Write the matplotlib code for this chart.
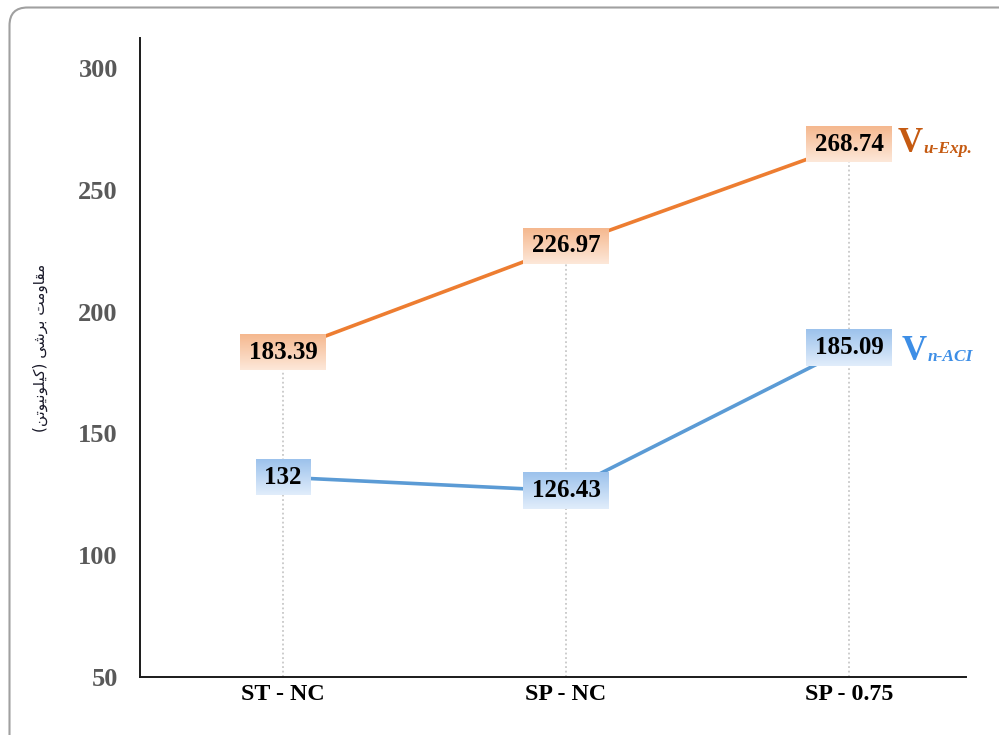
import numpy as np
import matplotlib
matplotlib.use('Agg')
import matplotlib.pyplot as plt
from matplotlib.patches import FancyBboxPatch
from matplotlib.colors import to_rgb

categories = ['ST - NC', 'SP - NC', 'SP - 0.75']
v_exp = [183.39, 226.97, 268.74]
v_aci = [132, 126.43, 185.09]
y_ticks = [50, 100, 150, 200, 250, 300]

# y-axis title in Persian, written with presentation forms in visual order
# because matplotlib does no Arabic shaping or bidi reordering
w_kilonewton = '\uFEE6\uFE97\uFEEE\uFEF4\uFEE7\uFEEE\uFEE0\uFEF4\uFB90'
w_barshi = '\uFEF0\uFEB7\uFEAE\uFE91'
w_moghavemat = '\uFE96\uFEE3\uFEED\uFE8E\uFED8\uFEE3'
ylabel = '(' + w_kilonewton + ') ' + w_barshi + ' ' + w_moghavemat

serif = ['Liberation Serif', 'DejaVu Serif']

fig = plt.figure(figsize=(9.99, 7.35), dpi=100)

# rounded outer frame, drawn in pixel units
frame = fig.add_axes([0, 0, 1, 1])
frame.set_xlim(0, 999)
frame.set_ylim(735, 0)
frame.axis('off')
frame.add_patch(FancyBboxPatch((9.5, 7.5), 1100, 748,
                               boxstyle='round,pad=0,rounding_size=18',
                               fc='none', ec='#a0a0a0', lw=1.5))

ax = fig.add_axes([140 / 999, 58 / 735, 826 / 999, 639 / 735])
ax.patch.set_alpha(0)
x = np.arange(len(categories))

xlim = (-0.505, 2.413)
ylim = (50, 312.3)

# drop lines from the axis to the highest point of each category
tops = np.maximum(v_exp, v_aci)
ax.vlines(x, 50, tops, colors='#c8c8c8', linestyles=(0, (1, 1.5)), lw=1.3, zorder=1)

ax.plot(x, v_exp, color='#ed7d31', lw=2.6, zorder=2, solid_capstyle='butt')
ax.plot(x, v_aci, color='#5b9bd5', lw=2.6, zorder=2, solid_capstyle='butt')

ax.set_xlim(*xlim)
ax.set_ylim(*ylim)
ax.set_xticks(x)
ax.set_xticklabels(categories, family=serif, fontweight='bold', fontsize=17.3, color='black')
ax.set_yticks(y_ticks)
ax.set_yticklabels([str(v) for v in y_ticks], family=serif, fontweight='bold',
                   fontsize=19, color='#595959')
ax.tick_params(axis='both', length=0)
ax.tick_params(axis='y', pad=16)
ax.tick_params(axis='x', pad=5)
for s in ['top', 'right']:
    ax.spines[s].set_visible(False)
for s in ['left', 'bottom']:
    ax.spines[s].set_color('#1a1a1a')
    ax.spines[s].set_linewidth(1.4)

fig.text(40 / 999, 1 - 348 / 735, ylabel, rotation=90, ha='center', va='center',
         fontsize=11, color='#1a1a2a', family='DejaVu Sans')

labels = []
for vals, c_top, c_bot in [(v_exp, '#f5b88f', '#fde8d9'), (v_aci, '#9cc2ec', '#e1edfb')]:
    for xi, v in zip(x, vals):
        t = ax.text(xi, v, f'{v:g}', ha='center', va='center', family=serif,
                    fontweight='bold', fontsize=18, color='black', zorder=5)
        labels.append((t, xi, v, c_top, c_bot))

# series names next to the last points
names = []
for val, sub, color, dx, dy in [(v_exp[-1], 'u-Exp.', '#c55a11', 35, -5.8),
                                (v_aci[-1], 'n-ACI', '#3d8ee6', 38, -8.6)]:
    big = ax.annotate('V', (x[-1], val), xytext=(dx, dy), textcoords='offset points',
                      ha='left', va='baseline', family=serif, fontweight='bold',
                      fontsize=25, color=color, zorder=6)
    names.append((big, val, sub, color, dy))

fig.canvas.draw()
renderer = fig.canvas.get_renderer()
inv = ax.transData.inverted()
for t, xi, v, c_top, c_bot in labels:
    bb = t.get_window_extent(renderer)
    cx, cy = ax.transData.transform((xi, v))
    w = bb.width + 17
    h = 36
    (x0, y0) = inv.transform((cx - w / 2, cy - h / 2))
    (x1, y1) = inv.transform((cx + w / 2, cy + h / 2))
    top = np.array(to_rgb(c_top))
    bot = np.array(to_rgb(c_bot))
    f = np.linspace(0, 1, 64)[:, None]
    grad = (top * (1 - f) + bot * f)[:, None, :]
    ax.imshow(grad, extent=[x0, x1, y0, y1], origin='upper', aspect='auto',
              interpolation='bilinear', zorder=4)

# subscripts start right after the big V
for big, val, sub, color, dy in names:
    bb = big.get_window_extent(renderer)
    px0, py0 = ax.transData.transform((x[-1], val))
    off_x = (bb.x1 + 1 - px0) * 72 / fig.dpi
    ax.annotate(sub, (x[-1], val), xytext=(off_x, dy - 0.7), textcoords='offset points',
                ha='left', va='baseline', family=serif, fontweight='bold', style='italic',
                fontsize=12.5, color=color, zorder=6)

ax.set_xlim(*xlim)
ax.set_ylim(*ylim)

fig.savefig('out.png', dpi=100)
